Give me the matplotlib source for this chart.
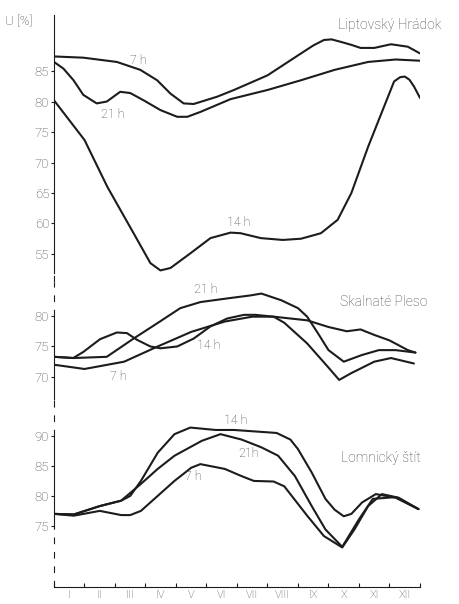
import matplotlib.pyplot as plt

plt.rcParams['font.family'] = ['Roboto', 'DejaVu Sans']
plt.rcParams['font.weight'] = 'light'

W, H = 460, 604
ink = '#1c1c1c'
txt = '#454545'

months = ['I', 'II', 'III', 'IV', 'V', 'VI', 'VII', 'VIII', 'IX', 'X', 'XI', 'XII']

# Liptovský Hrádok
lh7_x = [0, 0.96, 2.06, 2.83, 3.38, 3.82, 4.25, 4.58, 5.35, 5.9, 7.0, 8.1, 8.5, 8.85, 9.1, 9.4, 9.75, 10.05, 10.5, 11.05, 11.6, 12.0]
lh7_y = [87.4, 87.2, 86.5, 85.2, 83.5, 81.3, 79.7, 79.6, 80.8, 81.9, 84.3, 87.9, 89.2, 90.1, 90.2, 89.8, 89.3, 88.8, 88.8, 89.4, 89.0, 87.9]
lh21_x = [0, 0.31, 0.64, 0.96, 1.4, 1.73, 2.17, 2.5, 2.94, 3.49, 4.04, 4.37, 4.8, 5.79, 7.0, 8.1, 9.2, 10.3, 11.2, 12.0]
lh21_y = [86.5, 85.4, 83.5, 81.1, 79.7, 80.0, 81.6, 81.4, 80.2, 78.6, 77.5, 77.5, 78.3, 80.4, 81.9, 83.5, 85.2, 86.5, 86.9, 86.7]
lh14_x = [0, 1.0, 1.75, 2.61, 3.16, 3.49, 3.82, 4.47, 5.13, 5.79, 6.12, 6.78, 7.5, 8.1, 8.75, 9.3, 9.75, 10.3, 11.15, 11.35, 11.5, 11.65, 11.8, 12.0]
lh14_y = [80.2, 73.7, 66.0, 58.4, 53.5, 52.3, 52.7, 55.1, 57.6, 58.5, 58.4, 57.6, 57.3, 57.5, 58.4, 60.6, 65.0, 72.6, 83.3, 84.0, 84.1, 83.6, 82.5, 80.6]

# Skalnaté Pleso
sp7_x = [0, 1.0, 2.3, 3.4, 4.5, 5.6, 6.5, 7.2, 8.3, 9.0, 9.6, 10.05, 10.5, 11.0, 11.6, 11.85]
sp7_y = [72.0, 71.3, 72.5, 75.0, 77.4, 79.1, 79.9, 79.9, 79.3, 78.2, 77.5, 77.8, 76.9, 76.0, 74.4, 74.0]
sp14_x = [0, 0.63, 0.96, 1.51, 2.06, 2.39, 2.72, 3.16, 3.49, 4.04, 4.58, 5.13, 5.68, 6.23, 6.6, 7.2, 7.55, 8.3, 8.97, 9.35, 9.74, 10.5, 11.05, 11.8]
sp14_y = [73.3, 73.1, 74.1, 76.2, 77.3, 77.2, 76.1, 75.0, 74.7, 75.0, 76.3, 78.3, 79.6, 80.2, 80.2, 79.9, 78.9, 75.5, 71.7, 69.5, 70.6, 72.5, 73.1, 72.2]
sp21_x = [0, 0.65, 1.73, 2.61, 3.38, 4.14, 4.8, 5.68, 6.45, 6.8, 7.45, 8.0, 8.3, 8.65, 9.0, 9.5, 10.1, 10.65, 11.2, 11.85]
sp21_y = [73.3, 73.1, 73.3, 76.3, 78.8, 81.3, 82.3, 82.9, 83.4, 83.7, 82.6, 81.3, 79.9, 77.2, 74.4, 72.5, 73.6, 74.4, 74.4, 74.0]

# Lomnický štít
ls7_x = [0, 0.65, 1.5, 2.2, 2.5, 2.85, 3.4, 3.95, 4.5, 4.8, 5.6, 6.15, 6.55, 7.2, 7.55, 8.3, 8.85, 9.45, 9.85, 10.3, 10.75, 11.3, 11.95]
ls7_y = [77.0, 76.7, 77.5, 76.8, 76.8, 77.5, 80.0, 82.5, 84.7, 85.3, 84.5, 83.3, 82.5, 82.4, 81.6, 76.7, 73.3, 71.4, 74.4, 78.3, 80.3, 79.7, 77.8]
ls14_x = [0, 0.65, 1.5, 2.2, 2.5, 2.85, 3.4, 3.95, 4.47, 5.3, 5.9, 7.3, 7.75, 8.0, 8.45, 8.9, 9.2, 9.5, 9.75, 10.1, 10.55, 11.2, 11.95]
ls14_y = [77.0, 76.9, 78.3, 79.2, 80.0, 82.5, 87.2, 90.3, 91.4, 91.0, 91.0, 90.5, 89.4, 87.8, 83.9, 79.5, 77.7, 76.6, 77.0, 78.9, 80.3, 79.7, 77.8]
ls21_x = [0, 0.65, 1.5, 2.2, 2.85, 3.4, 3.95, 4.85, 5.46, 6.15, 6.8, 7.35, 7.9, 8.45, 8.9, 9.45, 10.0, 10.45, 11.2, 11.95]
ls21_y = [77.0, 76.9, 78.3, 79.2, 82.0, 84.5, 86.7, 89.2, 90.3, 89.4, 88.1, 86.7, 83.3, 78.3, 74.4, 71.5, 76.1, 79.5, 79.8, 77.8]

fig = plt.figure(figsize=(W / 100, H / 100), dpi=100)


def panel(top, bottom, ylim, solid, dashed, yticks):
    ax = fig.add_axes([54 / W, 1 - bottom / H, (420 - 54) / W, (bottom - top) / H])
    ax.set_xlim(0, 12)
    ax.set_ylim(*ylim)
    ax.patch.set_alpha(0)
    for s in ['top', 'right', 'bottom']:
        ax.spines[s].set_visible(False)
    ax.spines['left'].set_bounds(*solid)
    ax.spines['left'].set_color(ink)
    ax.spines['left'].set_linewidth(0.8)
    for d in dashed:
        ax.plot([0, 0], d, color=ink, lw=0.8, ls=(0, (6, 7)),
                transform=ax.get_yaxis_transform(), clip_on=False)
    ax.set_yticks(yticks)
    ax.tick_params(axis='y', direction='out', length=2.5, width=0.8, color=ink,
                   labelsize=9.5, labelcolor=txt, pad=1)
    ax.set_xticks([])
    return ax


ax1 = panel(15, 282, (50.4, 94.2), (51.9, 94.2), [(50.4, 51.9)], [55, 60, 65, 70, 75, 80, 85])
ax2 = panel(282, 400, (66.2, 85.6), (67.4, 80), [(80, 85.6), (66.2, 67.4)], [70, 75, 80])
ax3 = panel(400, 587, (64.8, 96.0), (75, 90), [(90, 96.0), (64.8, 75)], [75, 80, 85, 90])

lw = 1.5
for ax, curves in [(ax1, [(lh7_x, lh7_y), (lh21_x, lh21_y), (lh14_x, lh14_y)]),
                   (ax2, [(sp7_x, sp7_y), (sp14_x, sp14_y), (sp21_x, sp21_y)]),
                   (ax3, [(ls7_x, ls7_y), (ls14_x, ls14_y), (ls21_x, ls21_y)])]:
    for x, y in curves:
        ax.plot(x, y, color=ink, lw=lw, solid_joinstyle='round', solid_capstyle='round')

# bottom month axis
ax3.spines['bottom'].set_visible(True)
ax3.spines['bottom'].set_color(ink)
ax3.spines['bottom'].set_linewidth(0.8)
ax3.set_xticks(range(13))
ax3.set_xticklabels([])
ax3.set_xticks([i + 0.5 for i in range(12)], minor=True)
ax3.set_xticklabels(months, minor=True)
ax3.tick_params(axis='x', which='major', direction='in', length=3, width=0.8, color=ink)
ax3.tick_params(axis='x', which='minor', length=0, labelsize=8, labelcolor=txt, pad=2)

# curve labels
lab = dict(fontsize=9, color=txt, ha='center', va='center')
ax1.text(2.76, 86.8, '7 h', **lab)
ax1.text(1.94, 77.8, '21 h', **lab)
ax1.text(6.05, 60.2, '14 h', **lab)
ax2.text(4.97, 84.3, '21 h', **lab)
ax2.text(5.07, 75.2, '14 h', **lab)
ax2.text(2.1, 70.0, '7 h', **lab)
ax3.text(5.95, 92.6, '14 h', **lab)
ax3.text(6.38, 87.1, '21h', **lab)
ax3.text(4.57, 83.3, '7 h', **lab)

# station names and axis title
fig.text(338 / W, 1 - 25 / H, 'Liptovský Hrádok', fontsize=10, color=txt, va='center')
fig.text(340 / W, 1 - 302 / H, 'Skalnaté Pleso', fontsize=10, color=txt, va='center')
fig.text(341 / W, 1 - 458 / H, 'Lomnický štít', fontsize=10, color=txt, va='center')
fig.text(5 / W, 1 - 22 / H, 'U [%]', fontsize=9.5, color=txt, va='center')

fig.savefig('out.png', dpi=100, facecolor='white')
